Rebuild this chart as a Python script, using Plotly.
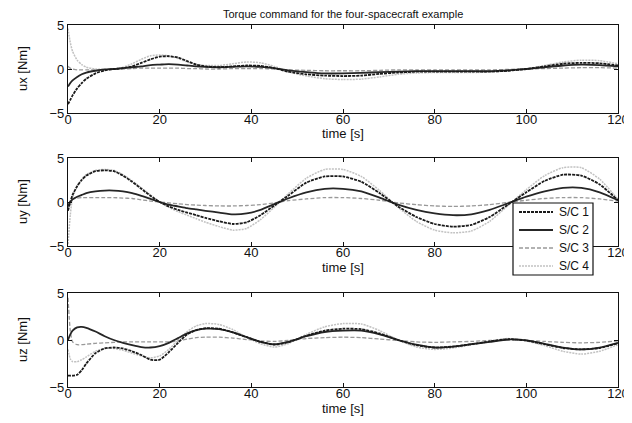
import plotly.graph_objects as go

T = [0, 0.5, 1, 2, 3, 4, 6, 8, 10, 12, 14, 16, 18, 20, 22, 24, 26, 28, 30, 33, 36, 39, 42, 45,
     48, 52, 56, 60, 64, 68, 72, 76, 80, 84, 88, 92, 96, 100, 104, 108, 112, 116, 120]

names = ["S/C 1", "S/C 2", "S/C 3", "S/C 4"]

ux_sc1 = [-4.0, -3.5, -3.0, -2.2, -1.6, -1.1, -0.5, -0.15, 0.0, 0.1, 0.3, 0.7, 1.1, 1.4, 1.45, 1.3, 0.9, 0.5, 0.3, 0.2, 0.3, 0.4, 0.35, 0.1,
          -0.3, -0.6, -0.75, -0.8, -0.75, -0.55, -0.4, -0.3, -0.3, -0.3, -0.3, -0.3, -0.2, 0.0, 0.3, 0.6, 0.7, 0.65, 0.4]
ux_sc2 = [-2.0, -1.6, -1.3, -0.9, -0.6, -0.4, -0.2, -0.05, 0.0, 0.1, 0.2, 0.3, 0.45, 0.5, 0.55, 0.5, 0.4, 0.3, 0.25, 0.2, 0.25, 0.3, 0.25, 0.1,
          -0.15, -0.35, -0.5, -0.5, -0.45, -0.35, -0.3, -0.25, -0.25, -0.25, -0.25, -0.25, -0.15, 0.0, 0.2, 0.4, 0.5, 0.45, 0.3]
ux_sc3 = [0.3, 0.1, 0.0, -0.1, -0.1, -0.1, -0.1, -0.1, -0.05, 0.0, 0.05, 0.1, 0.1, 0.1, 0.1, 0.1, 0.05, 0.05, 0.0, 0.0, 0.05, 0.05, 0.05, 0.0,
          -0.1, -0.15, -0.2, -0.2, -0.2, -0.15, -0.1, -0.1, -0.1, -0.1, -0.1, -0.1, -0.05, 0.0, 0.05, 0.1, 0.15, 0.15, 0.1]
ux_sc4 = [4.6, 3.0, 2.0, 1.0, 0.5, 0.2, 0.0, -0.05, 0.0, 0.2, 0.6, 1.1, 1.5, 1.6, 1.5, 1.2, 0.8, 0.5, 0.4, 0.4, 0.6, 0.8, 0.7, 0.3,
          -0.3, -0.8, -1.1, -1.2, -1.15, -0.9, -0.6, -0.45, -0.4, -0.4, -0.4, -0.35, -0.2, 0.0, 0.4, 0.8, 1.0, 0.95, 0.6]

uy_sc1 = [-1.0, 0.0, 0.8, 1.8, 2.5, 3.0, 3.5, 3.6, 3.5, 3.0, 2.3, 1.5, 0.7, 0.0, -0.5, -0.9, -1.2, -1.5, -1.8, -2.2, -2.5, -2.3, -1.5, -0.4,
          0.7, 2.2, 2.9, 2.9, 2.3, 1.0, -0.5, -1.7, -2.5, -2.8, -2.6, -1.7, -0.3, 1.1, 2.4, 3.1, 3.0, 2.0, 0.2]
uy_sc2 = [-0.5, 0.0, 0.3, 0.6, 0.8, 1.0, 1.2, 1.3, 1.3, 1.2, 1.0, 0.7, 0.35, 0.0, -0.3, -0.5, -0.7, -0.85, -1.0, -1.2, -1.4, -1.3, -0.9, -0.25,
          0.4, 1.1, 1.5, 1.5, 1.2, 0.5, -0.3, -0.9, -1.3, -1.5, -1.4, -0.9, -0.15, 0.6, 1.2, 1.6, 1.6, 1.1, 0.2]
uy_sc3 = [-0.3, 0.1, 0.3, 0.45, 0.5, 0.5, 0.5, 0.5, 0.5, 0.45, 0.4, 0.25, 0.1, 0.0, -0.1, -0.2, -0.3, -0.35, -0.4, -0.45, -0.45, -0.4, -0.3, -0.1,
          0.15, 0.35, 0.5, 0.5, 0.4, 0.2, -0.1, -0.3, -0.45, -0.5, -0.45, -0.3, -0.05, 0.2, 0.4, 0.5, 0.5, 0.35, 0.1]
uy_sc4 = [-4.8, -1.5, 0.5, 1.8, 2.6, 3.1, 3.6, 3.7, 3.6, 3.1, 2.4, 1.6, 0.8, 0.0, -0.6, -1.1, -1.5, -1.9, -2.3, -2.8, -3.2, -3.0, -2.0, -0.6,
          0.9, 2.7, 3.7, 3.7, 2.9, 1.3, -0.6, -2.2, -3.2, -3.5, -3.3, -2.2, -0.4, 1.4, 3.0, 3.9, 3.9, 2.6, 0.3]

uz_sc1 = [-3.8, -3.8, -3.8, -3.7, -3.2, -2.5, -1.4, -0.9, -0.8, -0.9, -1.2, -1.6, -2.1, -2.1, -1.3, -0.3, 0.6, 1.05, 1.25, 1.2, 0.8, 0.3, -0.2, -0.5,
          -0.25, 0.45, 1.0, 1.2, 1.15, 0.7, 0.0, -0.55, -0.8, -0.7, -0.45, -0.15, 0.1, -0.05, -0.45, -0.85, -1.0, -0.85, -0.35]
uz_sc2 = [0.0, 0.6, 1.0, 1.35, 1.4, 1.3, 0.9, 0.4, 0.0, -0.3, -0.55, -0.75, -0.8, -0.65, -0.3, 0.2, 0.7, 1.05, 1.2, 1.15, 0.8, 0.3, -0.2, -0.45,
          -0.2, 0.4, 0.85, 1.0, 1.0, 0.6, 0.0, -0.5, -0.8, -0.7, -0.45, -0.2, 0.05, -0.05, -0.4, -0.8, -1.0, -0.8, -0.3]
uz_sc3 = [4.5, 1.0, -0.2, -0.5, -0.5, -0.45, -0.35, -0.3, -0.25, -0.2, -0.2, -0.2, -0.2, -0.2, -0.2, -0.1, 0.1, 0.25, 0.3, 0.3, 0.2, 0.05, -0.1, -0.15,
          -0.05, 0.15, 0.25, 0.3, 0.25, 0.1, -0.05, -0.2, -0.25, -0.2, -0.15, -0.05, 0.0, -0.05, -0.15, -0.25, -0.3, -0.25, -0.1]
uz_sc4 = [-1.0, -2.0, -2.3, -2.3, -2.1, -1.8, -1.2, -0.9, -0.9, -1.1, -1.4, -1.7, -1.9, -1.7, -1.0, 0.0, 0.9, 1.5, 1.75, 1.65, 1.1, 0.3, -0.4, -0.75,
          -0.4, 0.6, 1.4, 1.75, 1.7, 1.0, 0.0, -0.75, -1.0, -0.85, -0.5, -0.15, 0.15, -0.1, -0.6, -1.2, -1.5, -1.2, -0.5]

x_ticks = [0, 20, 40, 60, 80, 100, 120]
y_ticks = [-5, 0, 5]
title_text = "Torque command for the four-spacecraft example"
x_title = "time [s]"

# panel rows as window-pixel (top, bottom) edges
rows_px = [(25, 113), (158, 246), (293, 387)]

panels = [
    ("ux [Nm]", [ux_sc1, ux_sc2, ux_sc3, ux_sc4]),
    ("uy [Nm]", [uy_sc1, uy_sc2, uy_sc3, uy_sc4]),
    ("uz [Nm]", [uz_sc1, uz_sc2, uz_sc3, uz_sc4]),
]

styles = [
    dict(color="#1a1a1a", width=1.8, dash="3px,1px"),
    dict(color="#262626", width=1.8, dash="solid"),
    dict(color="#999999", width=1.3, dash="4px,2px"),
    dict(color="#c2c2c2", width=1.5, dash="2px,1px"),
]

# page body has an 8px margin: the figure is drawn at offset (8, 8)
OFF = 8
WIN_W, WIN_H = 632, 423
PL, PR, PT, PB = 68, 618, 25, 387  # plot area in window pixels
W, H = WIN_W - OFF, WIN_H - OFF
ML, MR, MT, MB = PL - OFF, WIN_W - PR, PT - OFF, WIN_H - PB
PH = PB - PT
PW = PR - PL


def px_x(wx):  # window pixel x -> paper x
    return (wx - PL) / PW


def px_y(wy):  # window pixel y -> paper y
    return (PB - wy) / PH


fig = go.Figure()
fam = "Liberation Sans, Arial, sans-serif"
font = dict(family=fam, size=13, color="#111")

annotations = []
shapes = []
for i, (ytitle, series) in enumerate(panels):
    top, bot = rows_px[i]
    dom = [px_y(bot), px_y(top)]
    xa = "x" if i == 0 else f"x{i+1}"
    ya = "y" if i == 0 else f"y{i+1}"
    for j in [3, 2, 1, 0]:
        fig.add_trace(go.Scatter(
            x=T, y=series[j], mode="lines", name=names[j],
            line=dict(shape="spline", smoothing=0.6, **styles[j]),
            xaxis=xa, yaxis=ya, showlegend=False,
        ))
    axkw = dict(showline=True, linecolor="#111", linewidth=1.2, mirror="ticks",
                ticks="inside", ticklen=4, tickcolor="#111", showgrid=False, zeroline=False,
                tickfont=font, automargin=False)
    fig.layout[("xaxis" if i == 0 else f"xaxis{i+1}")] = dict(
        range=[0, 120], tickvals=x_ticks, anchor=ya, domain=[0, 1],
        ticklabelstandoff=-6, **axkw)
    fig.layout[("yaxis" if i == 0 else f"yaxis{i+1}")] = dict(
        range=[-5, 5], tickvals=y_ticks, anchor=xa, domain=dom, **axkw)
    annotations.append(dict(text=x_title, xref="paper", yref="paper", x=0.5,
                            y=px_y(bot + 21), xanchor="center", yanchor="middle",
                            showarrow=False, font=font))
    annotations.append(dict(text=ytitle, xref="paper", yref="paper", x=px_x(22),
                            y=px_y((top + bot) / 2), xanchor="center", yanchor="middle",
                            textangle=-90, showarrow=False, font=font))

annotations.append(dict(text=title_text, xref="paper", yref="paper", x=0.5,
                        y=px_y(14), xanchor="center", yanchor="middle",
                        showarrow=False, font=dict(family=fam, size=11, color="#111")))

# legend box (drawn in the middle panel, MATLAB style)
LX0, LX1, LY0, LY1 = 513, 593, 203, 275
shapes.append(dict(type="rect", xref="paper", yref="paper", layer="above",
                   x0=px_x(LX0), x1=px_x(LX1), y0=px_y(LY1), y1=px_y(LY0),
                   line=dict(color="#111", width=1.2), fillcolor="white"))
for j, nm in enumerate(names):
    cy = LY0 + 9 + 18 * j
    st = styles[j]
    shapes.append(dict(type="line", xref="paper", yref="paper", layer="above",
                       x0=px_x(519), x1=px_x(553), y0=px_y(cy), y1=px_y(cy),
                       line=dict(color=st["color"], width=st["width"], dash=st["dash"])))
    annotations.append(dict(text=nm, xref="paper", yref="paper", x=px_x(557), y=px_y(cy),
                            xanchor="left", yanchor="middle", showarrow=False,
                            font=dict(family=fam, size=12, color="#111")))

fig.update_layout(
    width=W, height=H,
    margin=dict(l=ML, r=MR, t=MT, b=MB, autoexpand=False),
    paper_bgcolor="white", plot_bgcolor="white",
    annotations=annotations, shapes=shapes,
    showlegend=False,
)

fig.write_html("out.html")
